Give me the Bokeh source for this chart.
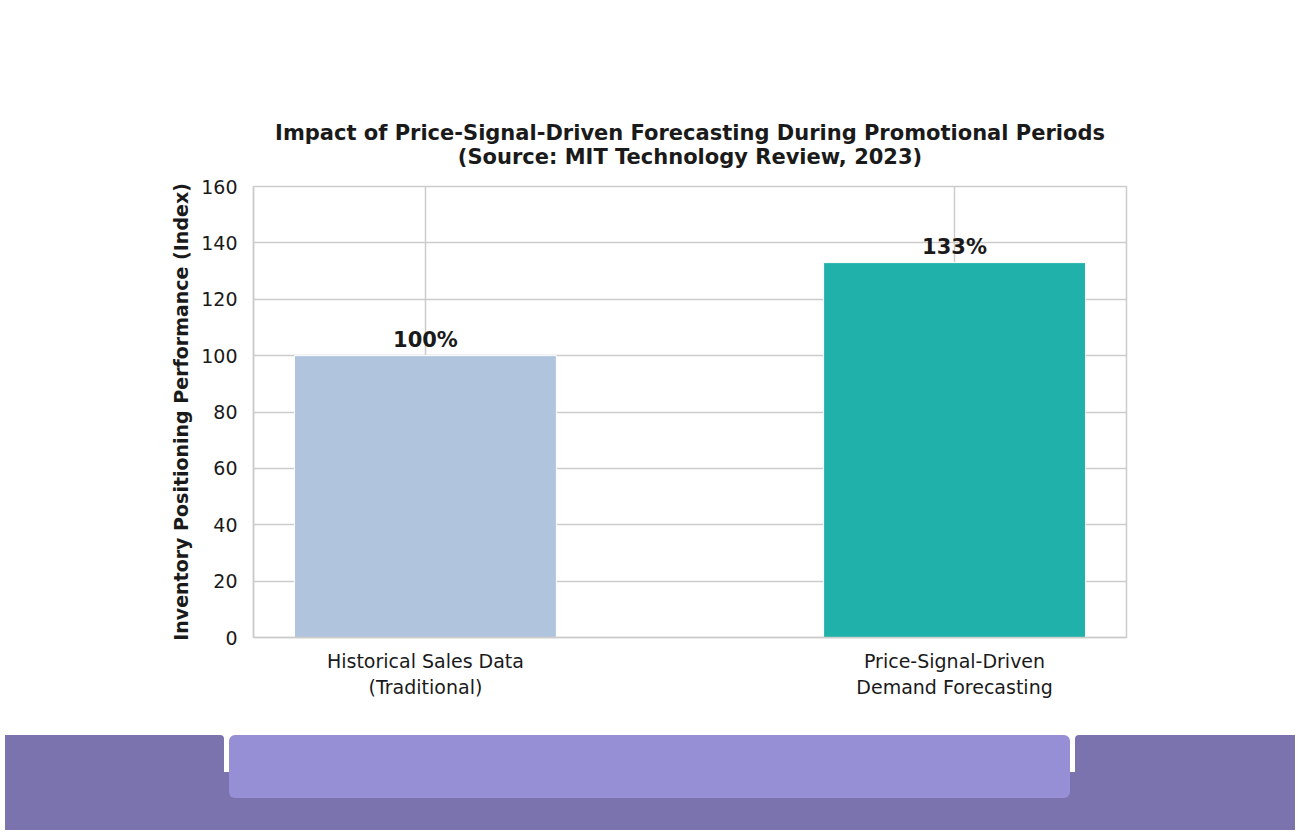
from bokeh.plotting import figure
from bokeh.models import ColumnDataSource, FactorRange, Range1d, Title, FixedTicker, Div
from bokeh.layouts import column
from bokeh.core.properties import value
from bokeh.embed import file_html
from bokeh.resources import INLINE

# data
methods = ["Historical Sales Data\n(Traditional)", "Price-Signal-Driven\nDemand Forecasting"]
performance = [100, 133]
bar_labels = ["100%", "133%"]
bar_colors = ["#b0c4de", "#20b2aa"]
y_ticks = [0, 20, 40, 60, 80, 100, 120, 140, 160]

source = ColumnDataSource(data=dict(method=methods, perf=performance, label=bar_labels, color=bar_colors))

p = figure(width=1284, height=730, output_backend="svg", toolbar_location=None,
           x_range=FactorRange(factors=methods, range_padding=-0.175, range_padding_units="absolute"),
           y_range=Range1d(0, 160),
           min_border_left=253, min_border_right=158, min_border_top=186, min_border_bottom=93)

p.add_layout(Title(text="Impact of Price-Signal-Driven Forecasting During Promotional Periods\n(Source: MIT Technology Review, 2023)",
                   align="center", text_align="center", text_font="DejaVu Sans", text_font_size="21px",
                   text_color="#1a1a1a", standoff=35), "above")

p.vbar(x="method", top="perf", width=0.495, color="color", line_color="white", line_width=1, source=source)
p.text(x="method", y="perf", text="label", source=source, text_align="center", text_baseline="bottom",
       y_offset=-4, text_font=value("DejaVu Sans"), text_font_style="bold", text_font_size="21px",
       text_color="#1a1a1a")

p.yaxis.ticker = FixedTicker(ticks=y_ticks)
p.yaxis.axis_label = "Inventory Positioning Performance (Index)"
p.yaxis.axis_label_text_font = "DejaVu Sans"
p.yaxis.axis_label_text_font_style = "bold"
p.yaxis.axis_label_text_font_size = "19px"
p.yaxis.axis_label_text_color = "#1a1a1a"
p.yaxis.axis_label_standoff = 6

for ax in [p.xaxis[0], p.yaxis[0]]:
    ax.major_label_text_font = "DejaVu Sans"
    ax.major_label_text_color = "#1a1a1a"
    ax.major_tick_line_color = None
    ax.minor_tick_line_color = None
    ax.axis_line_color = "#cccccc"
    ax.axis_line_width = 1.5
p.yaxis.major_label_text_font_size = "19px"
p.xaxis.major_label_text_font_size = "19px"
p.yaxis.major_label_standoff = 10
p.xaxis.major_label_standoff = 6

p.grid.grid_line_color = "#cccccc"
p.grid.grid_line_width = 1.5
p.outline_line_color = "#cccccc"
p.outline_line_width = 1.5
p.background_fill_color = "white"
p.border_fill_color = "white"

# decorative purple band under the chart
band = Div(width=1290, height=95, text=(
    '<div style="position:relative;width:1290px;height:95px;">'
    '<div style="position:absolute;left:0;top:37px;width:1290px;height:58px;background:#7a73ae;"></div>'
    '<div style="position:absolute;left:0;top:0;width:219px;height:37px;background:#7a73ae;border-top-right-radius:4px;"></div>'
    '<div style="position:absolute;left:1070px;top:0;width:220px;height:37px;background:#7a73ae;border-top-left-radius:4px;"></div>'
    '<div style="position:absolute;left:224px;top:0;width:841px;height:63px;background:#978fd6;border-radius:6px;"></div>'
    '</div>'))

layout = column(p, band, spacing=0)

open("out.html", "w").write(file_html(layout, INLINE))
